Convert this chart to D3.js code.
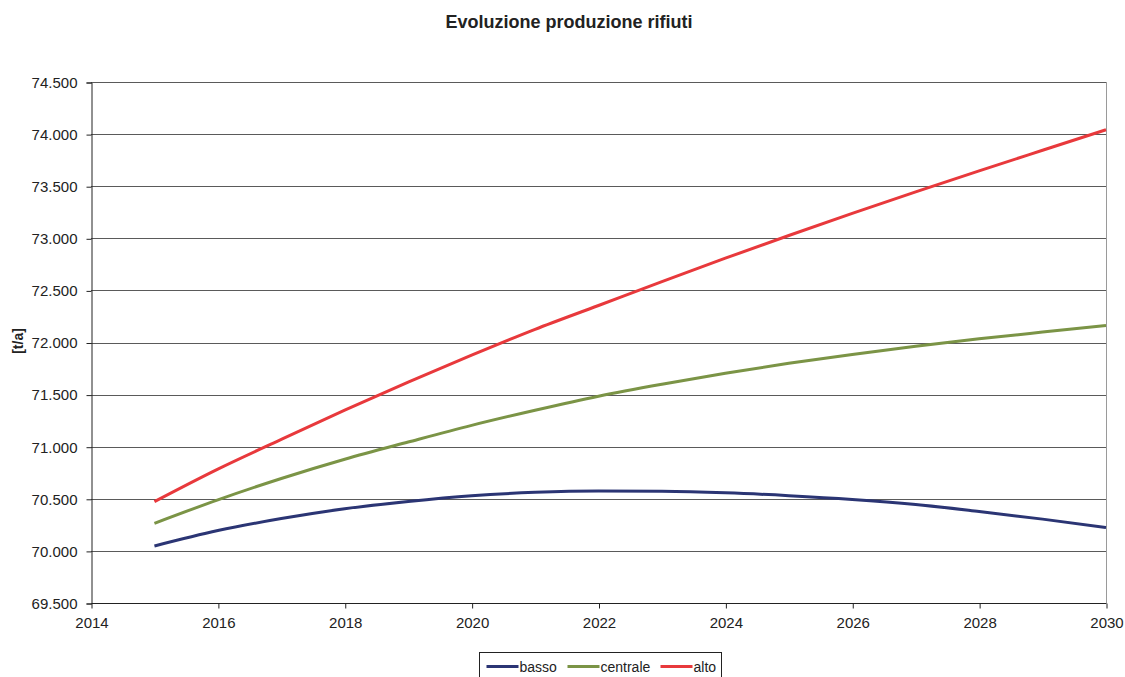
<!DOCTYPE html>
<html>
<head>
<meta charset="utf-8">
<script src="https://cdn.jsdelivr.net/npm/d3@7"></script>
<style>
  body { margin: 0; background: #fff; }
  svg { display: block; font-family: "Liberation Sans", Arial, sans-serif; }
</style>
</head>
<body>
<svg id="chart" width="1125" height="677"></svg>
<script>
// years and series values (t/a)
const years = [2015, 2016, 2017, 2018, 2019, 2020, 2021, 2022, 2023, 2024, 2025, 2026, 2027, 2028, 2029, 2030];
const basso = [70047, 70195, 70310, 70405, 70475, 70530, 70562, 70575, 70572, 70557, 70530, 70494, 70445, 70378, 70305, 70225];
const centrale = [70265, 70490, 70695, 70880, 71045, 71205, 71350, 71485, 71600, 71705, 71800, 71885, 71963, 72035, 72100, 72163];
const alto = [70473, 70785, 71070, 71350, 71620, 71878, 72126, 72355, 72585, 72809, 73027, 73239, 73445, 73647, 73845, 74042];

const seriesNames = ['basso', 'centrale', 'alto'];
const seriesColors = ['#2b3574', '#7b9446', '#e8393c'];
const xTicks = [2014, 2016, 2018, 2020, 2022, 2024, 2026, 2028, 2030];
const yTicks = [69500, 70000, 70500, 71000, 71500, 72000, 72500, 73000, 73500, 74000, 74500];

const sizes = {width: 1125, height: 677, left: 91, right: 1106, top: 82, bottom: 603};

const it = d3.formatLocale({decimal: ',', thousands: '.', grouping: [3], currency: ['', '€']});
const fmt = it.format(',d');

function styleAxis(g) {
    g.selectAll('line, path').attr('stroke', '#222');
    g.selectAll('text')
        .style('font-size', '15px')
        .style('font-family', '"Liberation Sans", Arial, sans-serif')
        .attr('fill', '#222');
}

function drawChart() {
    const {left, right, top, bottom} = sizes;
    const svg = d3.select('#chart');

    const xScale = d3.scaleLinear().domain([2014, 2030]).range([left, right]);
    const yScale = d3.scaleLinear().domain([69500, 74500]).range([bottom, top]);

    // horizontal gridlines
    svg.append('g')
        .selectAll('line')
        .data(yTicks.slice(1))
        .enter()
        .append('line')
            .attr('x1', left)
            .attr('x2', right)
            .attr('y1', d => Math.round(yScale(d)) + 0.5)
            .attr('y2', d => Math.round(yScale(d)) + 0.5)
            .attr('stroke', '#5a5a5a')
            .attr('stroke-width', 1);

    // right border of plot area
    svg.append('line')
        .attr('x1', right + 0.5).attr('x2', right + 0.5)
        .attr('y1', top).attr('y2', bottom)
        .attr('stroke', '#9a9a9a');

    const yAxis = d3.axisLeft(yScale).tickValues(yTicks).tickFormat(fmt).tickSize(5).tickPadding(9);
    svg.append('g')
        .classed('axis y-axis', true)
        .attr('transform', `translate(${left + 0.5}, 0.5)`)
        .call(yAxis)
        .call(styleAxis);

    const xAxis = d3.axisBottom(xScale).tickValues(xTicks).tickFormat(d3.format('d')).tickSize(5).tickPadding(9);
    svg.append('g')
        .classed('axis x-axis', true)
        .attr('transform', `translate(0.5, ${bottom + 0.5})`)
        .call(xAxis)
        .call(styleAxis)
        .call(g => g.select('.domain').attr('d', `M${left},0H${right}`));

    // series lines
    const allSeries = [basso, centrale, alto];
    const line = d3.line()
        .x((d, i) => xScale(years[i]))
        .y(d => yScale(d))
        .curve(d3.curveMonotoneX);

    svg.append('g')
        .selectAll('path')
        .data(allSeries)
        .enter()
        .append('path')
            .attr('d', d => line(d))
            .attr('fill', 'none')
            .attr('stroke', (d, i) => seriesColors[i])
            .attr('stroke-width', 3);

    // title
    svg.append('text')
        .attr('x', 569)
        .attr('y', 28)
        .attr('text-anchor', 'middle')
        .attr('font-size', 18)
        .attr('font-weight', 'bold')
        .attr('fill', '#222')
        .text('Evoluzione produzione rifiuti');

    // y label
    svg.append('text')
        .attr('transform', `translate(23, 341) rotate(-90)`)
        .attr('text-anchor', 'middle')
        .attr('font-size', 14)
        .attr('font-weight', 'bold')
        .attr('fill', '#222')
        .text('[t/a]');

    // legend
    const legend = svg.append('g').attr('transform', 'translate(479.5, 652.5)');
    legend.append('rect')
        .attr('width', 242)
        .attr('height', 40)
        .attr('fill', '#fff')
        .attr('stroke', '#222');

    const entryX = [7, 88, 181];
    const entries = legend.selectAll('g.entry')
        .data(seriesNames)
        .enter()
        .append('g')
            .classed('entry', true)
            .attr('transform', (d, i) => `translate(${entryX[i]}, 14)`);
    entries.append('line')
        .attr('x1', 0).attr('x2', 32)
        .attr('stroke', (d, i) => seriesColors[i])
        .attr('stroke-width', 3);
    entries.append('text')
        .attr('x', 33)
        .attr('y', 5)
        .attr('font-size', 14)
        .attr('fill', '#222')
        .text(d => d);
}

drawChart();
</script>
</body>
</html>
